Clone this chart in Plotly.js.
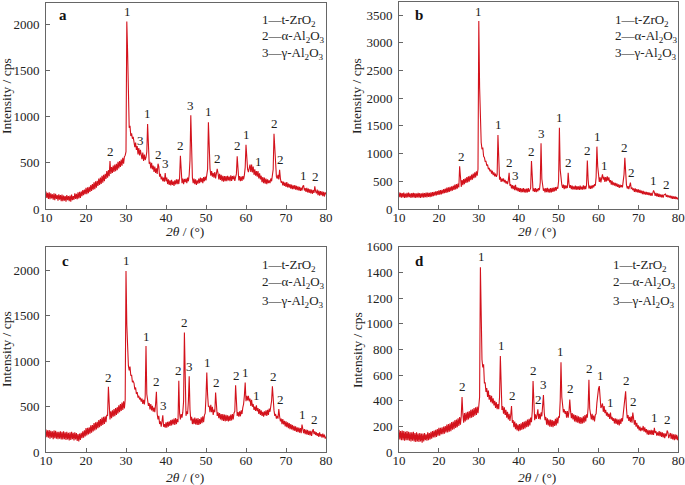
<!DOCTYPE html>
<html>
<head>
<meta charset="utf-8">
<script src="https://cdn.plot.ly/plotly-3.0.1.min.js"></script>
<style>html,body{margin:0;padding:0;background:#fff;}#chart{width:685px;height:485px;}</style>
</head>
<body>
<div id="chart"></div>
<script>
// 2θ grid: start 10°, step 0.2°, 351 points per pattern
var thetaStart = 10;
var thetaStep = 0.2;

// Pattern a (cps)
var intensityA = [
190,120,175,110,180, 105,170,115,160,100, 170,95,165,110,150, 90,160,100,150,85,
155,85,145,90,140, 80,150,95,140,85, 145,80,155,95,140, 100,170,110,165,105,
180,115,185,120,190, 140,205,150,210,160, 230,160,235,170,240, 185,260,195,270,210,
290,215,300,230,305, 250,330,260,340,270, 360,285,370,300,380, 325,410,340,420,355,
520,380,455,390,470, 400,480,410,490,420, 510,440,520,455,535, 470,555,490,565,580,
620,2030,1700,1000,880, 900,790,820,760,780, 730,670,720,640,680, 590,660,580,640,600,
540,610,520,590,530, 560,620,920,620,490, 510,440,500,430,470, 400,460,390,440,380,
490,460,350,380,320, 350,300,340,295,390, 300,340,270,320,260, 310,255,315,260,300,
250,310,265,320,270, 320,270,340,575,350, 280,330,270,325,290, 330,280,340,300,370,
530,1015,500,340,280, 330,270,320,260,310, 275,330,280,340,290, 335,280,345,300,350,
310,370,430,940,520, 440,360,410,350,390, 340,400,330,385,435, 390,320,380,315,370,
300,360,295,355,300, 355,300,360,310,350, 300,365,305,355,320, 360,305,345,380,570,
390,310,355,300,350, 305,355,320,370,450, 695,540,430,400,460, 480,400,480,395,460,
370,430,360,410,350, 410,330,385,320,360, 290,345,280,340,275, 330,270,320,280,310,
280,330,300,360,430, 815,650,430,350,330, 370,320,425,330,285, 300,255,295,250,285,
240,290,235,275,230, 270,220,265,215,255, 215,260,210,250,205, 245,200,240,195,230,
200,245,255,200,225, 185,230,180,220,175, 215,170,210,165,205, 175,245,190,170,210,
150,200,145,195,150, 190,140,185,135,180, 160
];

// Pattern b (cps)
var intensityB = [
300,215,290,205,285, 210,295,200,280,205, 290,210,295,215,280, 200,285,210,290,205,
285,200,280,210,290, 205,285,200,280,210, 290,205,285,215,295, 210,295,220,290,215,
300,225,305,230,310, 240,320,245,325,255, 335,260,340,265,345, 275,360,285,370,290,
385,300,390,310,400, 320,410,330,420,345, 440,355,450,365,460, 390,770,445,400,520,
430,540,450,555,470, 575,480,590,495,600, 520,620,530,640,555, 660,570,680,600,720,
3390,2200,1500,1200,1080, 1110,950,930,860,860, 780,800,720,740,680, 710,640,690,610,660,
590,640,580,620,1335, 720,530,580,490,550, 500,550,480,525,460, 500,450,520,655,420,
450,370,430,360,420, 340,435,335,390,320, 380,310,375,300,370, 305,375,300,365,295,
370,300,375,310,365, 380,865,440,320,370, 310,375,305,365,320, 375,340,480,1185,540,
400,330,370,300,375, 305,380,300,370,295, 375,300,380,310,385, 320,395,330,400,365,
510,1465,710,470,440, 380,440,360,430,370, 420,380,655,460,380, 430,360,420,350,410,
355,420,345,415,350, 410,345,420,350,405, 350,425,355,415,360, 430,875,530,370,420,
365,420,370,430,390, 450,420,570,1125,770, 580,490,570,480,560, 625,530,580,490,575,
500,590,510,570,480, 520,440,510,430,480, 420,470,410,460,400, 445,380,440,390,430,
390,480,625,925,570, 440,370,410,360,400, 475,370,380,340,370, 310,370,305,360,300,
355,290,345,285,330, 270,325,265,315,260, 310,255,305,250,295, 240,290,235,285,335,
300,235,290,230,280, 220,275,215,265,210, 260,205,255,265,270, 220,255,210,245,205,
240,190,235,185,225, 185,225,180,215,175, 200
];

// Pattern c (cps)
var intensityC = [
250,165,240,160,245, 150,235,160,230,145, 240,155,235,150,225, 145,225,150,230,140,
225,140,230,145,220, 135,225,140,215,130, 220,135,225,145,215, 130,220,140,210,125,
200,120,205,135,215, 155,230,160,240,175, 265,185,270,195,275, 205,295,215,300,230,
320,240,330,250,335, 265,355,275,365,290, 380,300,390,310,395, 330,410,400,720,430,
360,450,375,460,390, 475,395,485,410,495, 425,515,440,530,455, 545,465,560,480,580,
1990,1400,1100,950,900, 940,840,850,770,780, 760,690,710,640,660, 600,620,580,600,555,
590,530,575,525,610, 1165,640,590,510,540, 470,530,460,510,445, 490,440,530,665,420,
360,400,310,340,280, 340,405,280,310,270, 330,270,335,280,340, 290,355,295,360,305,
370,300,375,310,365, 330,785,430,360,420, 380,440,560,1315,500, 400,450,420,565,835,
470,350,390,310,370, 310,380,305,370,300, 375,300,365,310,385, 320,395,330,405,430,
610,875,630,500,510, 440,520,440,500,410, 470,440,655,490,400, 440,375,430,360,420,
350,420,345,415,340, 410,345,405,340,400, 345,415,350,420,360, 430,450,735,480,400,
440,390,450,395,460, 420,490,530,625,765, 560,620,570,620,560, 590,510,575,500,530,
465,500,455,515,450, 485,420,475,410,460, 400,445,390,450,405, 460,400,465,410,480,
445,510,565,725,530, 460,400,420,370,400, 370,475,395,340,370, 310,365,305,345,285,
340,275,330,265,320, 255,310,250,300,240, 290,235,285,225,275, 220,270,215,265,210,
305,240,210,255,200, 250,195,245,190,235, 185,235,180,230,255, 200,230,190,220,180,
210,170,220,175,200, 160,205,165,195,150, 170
];

// Pattern d (cps)
var intensityD = [
175,100,165,95,170, 95,165,90,160,95, 165,95,160,90,155, 85,155,90,160,85,
150,80,155,85,145, 80,150,85,145,75, 145,85,150,95,140, 90,155,95,150,100,
160,105,165,115,170, 115,175,120,180,130, 190,130,190,140,195, 140,200,145,205,155,
215,155,220,160,225, 165,235,175,240,180, 250,190,255,195,265, 205,275,215,280,430,
300,230,305,240,310, 250,315,255,320,265, 330,270,335,275,345, 285,350,290,355,305,
360,430,1440,1000,720, 660,685,540,540,470, 500,430,480,410,445, 390,440,380,420,365,
400,345,390,335,375, 335,430,750,430,330, 360,300,350,290,330, 270,315,255,300,245,
290,360,230,250,195, 240,180,225,170,215, 165,220,170,225,175, 235,180,240,185,245,
195,255,200,260,210, 270,235,320,555,310, 250,295,260,290,335, 260,300,255,310,280,
340,445,310,250,275, 215,265,210,255,200, 255,200,250,195,245, 205,260,210,270,225,
280,270,400,700,430, 380,310,335,300,320, 270,320,270,315,410, 320,265,305,255,295,
240,290,235,285,230, 280,225,275,220,270, 225,280,230,290,240, 295,270,350,565,340,
310,255,300,250,285, 240,290,300,385,460, 495,515,410,345,360, 380,315,360,305,330,
285,310,275,300,260, 310,255,275,245,265, 225,265,220,260,215, 255,210,260,220,265,
240,295,320,400,475, 345,265,290,245,275, 235,280,230,310,275, 215,250,200,230,185,
210,170,200,165,190, 170,205,160,195,155, 180,140,175,135,170, 140,175,135,170,135,
190,150,165,130,155, 130,165,125,160,120, 155,115,150,110,145, 125,170,155,110,140,
150,105,145,100,140, 95,140,100,135,95, 125
];

// Peak markers: 1 = t-ZrO2, 2 = α-Al2O3, 3 = γ-Al2O3
var peaksA_x = [26.0,30.3,33.5,35.4,38.1,39.8,43.7,46.2,50.7,52.9,57.9,60.1,63.1,67.1,68.6,74.4,77.3];
var peaksA_y = [520,2040,640,930,490,390,580,1020,950,440,580,700,410,820,430,260,250];
var peaksA_t = ['2','1','3','1','2','3','2','3','1','2','2','1','1','2','2','1','2'];

var peaksB_x = [25.7,30.0,35.0,37.7,39.2,43.2,45.8,50.3,52.6,57.3,59.8,61.5,66.6,68.3,73.8,77.0];
var peaksB_y = [780,3400,1350,660,440,870,1190,1480,670,880,1130,620,930,480,340,270];
var peaksB_t = ['2','1','1','2','3','2','3','1','2','2','1','1','2','2','1','2'];

var peaksC_x = [25.6,30.0,35.1,37.7,39.4,43.2,44.7,45.9,50.3,52.6,57.6,59.9,62.6,66.8,68.6,74.1,77.0];
var peaksC_y = [720,2000,1170,670,410,790,1320,840,880,660,740,770,520,730,480,310,260];
var peaksC_t = ['2','1','1','2','3','2','2','3','1','2','2','1','1','2','2','1','2'];

var peaksD_x = [25.9,30.6,35.6,38.4,43.7,44.9,46.3,50.6,52.9,57.7,60.4,63.0,67.0,68.7,74.0,77.3];
var peaksD_y = [440,1450,760,370,565,340,450,710,420,575,525,310,485,320,200,180];
var peaksD_t = ['2','1','1','2','2','2','3','1','2','2','1','1','2','2','1','2'];

var panelLetters = ['a','b','c','d'];
var legendLines = ['1—t-ZrO<sub>2</sub>','2—α-Al<sub>2</sub>O<sub>3</sub>','3—γ-Al<sub>2</sub>O<sub>3</sub>'];
var yMax = [2235, 3740, 2256, 1600];
var yTickStep = [500, 500, 500, 200];

var W = 685, H = 485;
var serif = 'Liberation Serif, Times New Roman, serif';
var red = '#d3121c';

function px(x){ return x / W; }
function py(y){ return 1 - y / H; }

var series = [intensityA, intensityB, intensityC, intensityD];
var peaks = [[peaksA_x,peaksA_y,peaksA_t],[peaksB_x,peaksB_y,peaksB_t],[peaksC_x,peaksC_y,peaksC_t],[peaksD_x,peaksD_y,peaksD_t]];

// panel geometry in pixels: left, right, top, bottom
var geom = [
  [46, 326, 2.5, 209],
  [399, 678.3, 1.7, 209],
  [46, 326, 246.7, 452.3],
  [399, 678.3, 246.7, 452.3]
];

var traces = [];
var annotations = [];
var layout = {
  width: W, height: H,
  margin: {l:0, r:0, t:0, b:0},
  paper_bgcolor: '#fff', plot_bgcolor: '#fff',
  showlegend: false,
  font: {family: serif, color: '#222', size: 13}
};

for (var i = 0; i < 4; i++) {
  var sfx = i === 0 ? '' : String(i + 1);
  traces.push({
    type: 'scatter', mode: 'lines',
    x0: thetaStart, dx: thetaStep, y: series[i],
    xaxis: 'x' + sfx, yaxis: 'y' + sfx,
    line: {color: red, width: 1.1},
    hoverinfo: 'skip'
  });
  var g = geom[i];
  var axCommon = {
    showline: true, mirror: true, linecolor: '#666', linewidth: 1,
    ticks: 'inside', ticklen: 4, tickcolor: '#666', tickwidth: 1,
    showgrid: false, zeroline: false,
    tickfont: {family: serif, size: 13, color: '#222'}
  };
  layout['xaxis' + sfx] = Object.assign({}, axCommon, {
    domain: [px(g[0]), px(g[1])], anchor: 'y' + sfx,
    range: [10, 80], tick0: 10, dtick: 10, ticklabelstandoff: -4
  });
  layout['yaxis' + sfx] = Object.assign({}, axCommon, {
    domain: [py(g[3]), py(g[2])], anchor: 'x' + sfx,
    range: [0, yMax[i]], tick0: 0, dtick: yTickStep[i], ticklabelstandoff: 3
  });
  // peak labels
  var pk = peaks[i];
  for (var k = 0; k < pk[0].length; k++) {
    annotations.push({
      xref: 'x' + sfx, yref: 'y' + sfx, x: pk[0][k], y: pk[1][k],
      text: pk[2][k], showarrow: false, yanchor: 'bottom', xanchor: 'center',
      font: {family: serif, size: 13, color: '#222'}
    });
  }
  // panel letter
  var letterPos = [[63,15],[419,15],[65,261],[419,261]][i];
  annotations.push({
    xref: 'paper', yref: 'paper', x: px(letterPos[0]), y: py(letterPos[1]),
    text: '<b>' + panelLetters[i] + '</b>', showarrow: false,
    xanchor: 'center', yanchor: 'middle',
    font: {family: serif, size: 15, color: '#111'}
  });
  // legend text
  var legX = [260, 612.5, 260, 610.7][i];
  var legY = i < 2 ? [20.7, 37, 53.7] : [265, 282.7, 301];
  for (var m = 0; m < 3; m++) {
    annotations.push({
      xref: 'paper', yref: 'paper', x: px(legX), y: py(legY[m]),
      text: legendLines[m], showarrow: false, xanchor: 'left', yanchor: 'middle',
      font: {family: serif, size: 13, color: '#222'}
    });
  }
  // axis titles
  var yt = [[7,96],[357,96],[6,349],[357,350]][i];
  annotations.push({
    xref: 'paper', yref: 'paper', x: px(yt[0]), y: py(yt[1]),
    text: 'Intensity / cps', showarrow: false, textangle: -90,
    xanchor: 'center', yanchor: 'middle',
    font: {family: serif, size: 13.5, color: '#222'}
  });
  var xt = [[185,231],[537,231],[185,477],[537,477]][i];
  annotations.push({
    xref: 'paper', yref: 'paper', x: px(xt[0]), y: py(xt[1]),
    text: '<i>2θ</i> / (°)', showarrow: false,
    xanchor: 'center', yanchor: 'middle',
    font: {family: serif, size: 13.5, color: '#222'}
  });
}
layout.annotations = annotations;

Plotly.newPlot('chart', traces, layout, {staticPlot: true, displayModeBar: false});
</script>
</body>
</html>
